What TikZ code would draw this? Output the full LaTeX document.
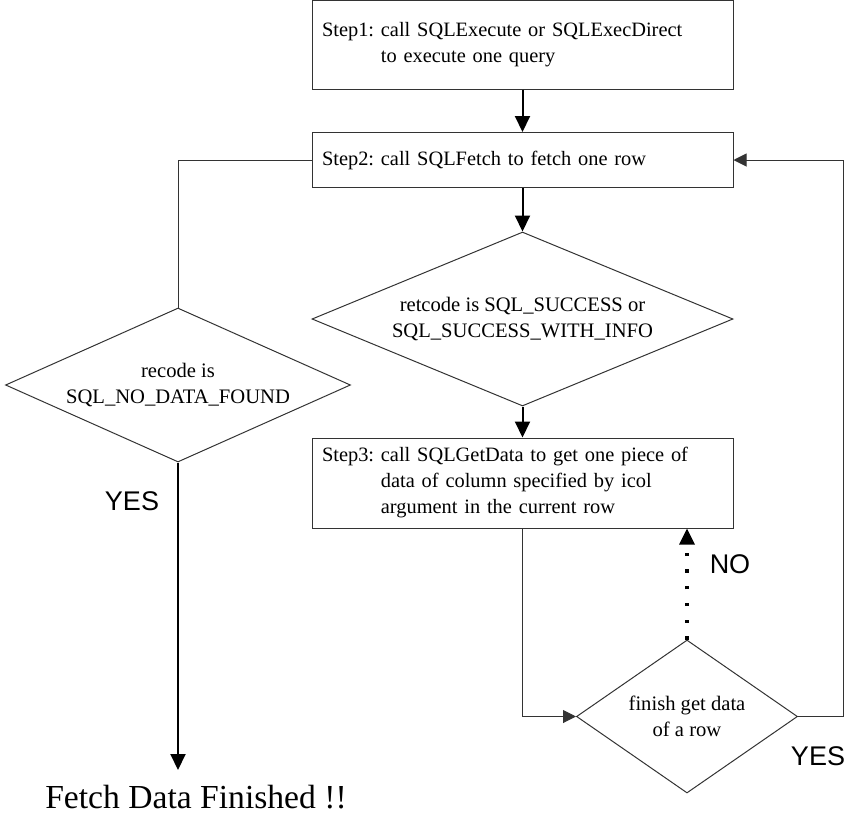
\documentclass[tikz,border=0pt]{standalone}
\usepackage{fontspec}
\setmainfont{Liberation Serif}
\newfontfamily\labelfont{Liberation Sans}
\usetikzlibrary{shapes.geometric,arrows.meta}
\frenchspacing

\begin{document}
\begin{tikzpicture}[x=1pt,y=-1pt,
  stepbox/.style={draw=black!80, line width=1pt, minimum width=421pt,
    text width=401pt, inner xsep=10pt, inner ysep=0pt, align=left,
    font=\fontsize{20.4}{26}\selectfont},
  test/.style={draw=black!80, line width=1pt, diamond, inner sep=0pt},
  testtext/.style={align=center, inner sep=0pt, font=\fontsize{20.6}{26}\selectfont},
  flow/.style={line width=2pt, -{Triangle[width=15pt,length=16pt]}},
  link/.style={draw=black!80, line width=1pt},
  linkarrow/.style={link, -{Triangle[width=13pt,length=13pt]}},
  again/.style={line width=3.3pt, dash pattern=on 3.3pt off 13.4pt,
    -{Triangle[width=15pt,length=16pt]}},
  answer/.style={inner sep=0pt, font=\labelfont\fontsize{27}{32}\selectfont},
]
\useasboundingbox (0,0) rectangle (847,815);

% processing steps
\node[stepbox, minimum height=89pt] (s1) at (522.5,44.5)
  {Step1: call SQLExecute or SQLExecDirect\\
   \phantom{Step1: }to execute one query};
\node[stepbox, minimum height=55pt] (s2) at (522.5,160)
  {Step2: call SQLFetch to fetch one row};
\node[stepbox, minimum height=90pt] (s3) at (522.5,483)
  {Step3: call SQLGetData to get one piece of\\
   \phantom{Step3: }data of column specified by icol\\
   \phantom{Step3: }argument in the current row};

% decisions
\node[test, minimum width=345pt, minimum height=154pt] (d1) at (178,385) {};
\node[testtext] (d1t) at (d1.center) {recode is\\SQL\_NO\_DATA\_FOUND};
\node[test, minimum width=421pt, minimum height=174pt] (d2) at (522.5,319) {};
\node[testtext] (d2t) at (d2.center) {retcode is SQL\_SUCCESS or\\SQL\_SUCCESS\_WITH\_INFO};
\node[test, minimum width=221pt, minimum height=153pt] (d3) at (687,716.5) {};
\node[testtext] (d3t) at (d3.center) {finish get data\\of a row};

% end of fetching
\node[anchor=base, inner sep=0pt, font=\fontsize{33.6}{40}\selectfont] (fin) at (196,808)
  {Fetch Data Finished !!};
\coordinate (finarrow) at (178,770);

% branch labels
\node[answer] (yes1) at (132,501) {YES};
\node[answer] (no) at (730,564) {NO};
\node[answer] (yes2) at (818,756) {YES};

% connectors
\draw[flow] (s1.south) -- (s2.north);
\draw[flow] (s2.south) -- (d2.north);
\draw[flow] (d2.south) -- (s3.north);
\draw[link] (s2.west) -| (d1.north);
\draw[flow] (d1.south) -- (d1.south |- finarrow);
\draw[linkarrow] (s3.south) |- (d3.west);
\draw[again] (d3.north) -- (d3.north |- s3.south);
\draw[linkarrow] (d3.east) -- ++(45,0) |- (s2.east);
\end{tikzpicture}
\end{document}
